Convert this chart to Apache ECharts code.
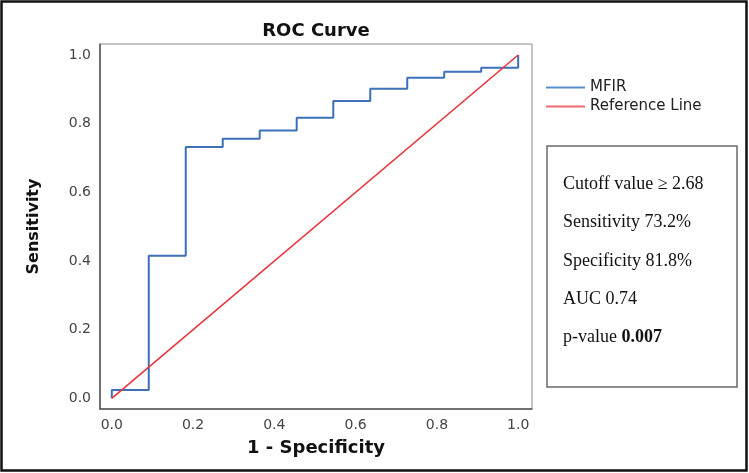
<!DOCTYPE html>
<html>
<head>
<meta charset="utf-8">
<script src="https://cdn.jsdelivr.net/npm/echarts@6/dist/echarts.min.js"></script>
<style>
  html, body { margin: 0; padding: 0; background: #fff; }
  #chart { width: 749px; height: 473px; }
</style>
</head>
<body>
<div id="chart"></div>
<script>
// ROC points (1 - specificity, sensitivity); the curve rises first, then runs right
var fpr = [0, 0.091, 0.182, 0.273, 0.364, 0.455, 0.545, 0.636, 0.727, 0.818, 0.909, 1.0, 1.0];
var tpr = [0, 0.024, 0.415, 0.732, 0.756, 0.780, 0.817, 0.866, 0.902, 0.934, 0.951, 0.963, 1.0];
// diagonal reference
var refX = [0, 1];
var refY = [0, 1];
var tickValues = [0, 0.2, 0.4, 0.6, 0.8, 1.0];
var statLines = ['Cutoff value \u2265 2.68', 'Sensitivity 73.2%', 'Specificity 81.8%', 'AUC 0.74'];
var pLabel = 'p-value';
var pValue = '0.007';

var sans = '"DejaVu Sans", Arial, sans-serif';
var serif = '"Liberation Serif", "Times New Roman", serif';

var chart = echarts.init(document.getElementById('chart'));

var rocData = fpr.map(function (x, i) { return [x, tpr[i]]; });
var refData = refX.map(function (x, i) { return [x, refY[i]]; });

// stats box texts
var boxTexts = statLines.map(function (s, i) {
  return {
    type: 'text',
    left: 563,
    top: 175 + i * 38.5,
    style: { text: s, font: '18px ' + serif, fill: '#111' }
  };
});
boxTexts.push({
  type: 'text',
  left: 563,
  top: 328,
  style: {
    text: '{n|' + pLabel + ' }{b|' + pValue + '}',
    rich: {
      n: { font: '18px ' + serif, fill: '#111' },
      b: { font: 'bold 18px ' + serif, fill: '#111' }
    }
  }
});

var option = {
  animation: false,
  backgroundColor: '#fff',
  grid: {
    left: 100, top: 44, width: 432, height: 365,
    show: true, borderColor: '#8a8a8a', borderWidth: 1
  },
  legend: {
    orient: 'vertical',
    left: 541,
    top: 75,
    icon: 'rect',
    itemWidth: 39,
    itemHeight: 2,
    itemGap: 4,
    textStyle: { fontFamily: sans, fontSize: 15, lineHeight: 14, color: '#222' },
    data: ['MFIR', 'Reference Line']
  },
  xAxis: {
    type: 'value',
    min: -0.029, max: 1.034,
    name: '1 - Specificity',
    nameLocation: 'middle',
    nameGap: 30,
    nameTextStyle: { fontFamily: sans, fontSize: 18, fontWeight: 'bold', color: '#111' },
    axisLine: { onZero: false, lineStyle: { color: '#555', width: 1.5 } },
    axisTick: { show: false },
    splitLine: { show: false },
    axisLabel: {
      customValues: tickValues,
      margin: 9,
      fontFamily: sans, fontSize: 14, color: '#444',
      formatter: function (v) { return v.toFixed(1); }
    }
  },
  yAxis: {
    type: 'value',
    min: -0.031, max: 1.032,
    name: 'Sensitivity',
    nameLocation: 'middle',
    nameGap: 58,
    nameTextStyle: { fontFamily: sans, fontSize: 16, fontWeight: 'bold', color: '#111' },
    axisLine: { show: true, onZero: false, lineStyle: { color: '#555', width: 1.5 } },
    axisTick: { show: false },
    splitLine: { show: false },
    axisLabel: {
      customValues: tickValues,
      margin: 9,
      fontFamily: sans, fontSize: 14, color: '#444',
      formatter: function (v) { return v.toFixed(1); }
    }
  },
  series: [
    {
      name: 'MFIR',
      type: 'line',
      step: 'start',
      symbol: 'none',
      data: rocData,
      lineStyle: { color: '#3d70b8', width: 2 },
      itemStyle: { color: '#5b8ed0' },
      z: 3
    },
    {
      name: 'Reference Line',
      type: 'line',
      symbol: 'none',
      data: refData,
      lineStyle: { color: '#e8333a', width: 1.6 },
      itemStyle: { color: '#ee6b70' },
      z: 4
    }
  ],
  graphic: [
    {
      type: 'rect',
      shape: { x: 1.5, y: 1.5, width: 745, height: 469 },
      style: { fill: 'none', stroke: '#111', lineWidth: 2.5 },
      silent: true
    },
    {
      type: 'text',
      x: 316, y: 31,
      style: {
        text: 'ROC Curve', font: 'bold 18px ' + sans, fill: '#111',
        textAlign: 'center', textVerticalAlign: 'middle'
      }
    },
    {
      type: 'rect',
      shape: { x: 547, y: 146, width: 190, height: 241 },
      style: { fill: '#fff', stroke: '#6a6a6a', lineWidth: 1.5 },
      silent: true
    }
  ].concat(boxTexts)
};

chart.setOption(option);
</script>
</body>
</html>
